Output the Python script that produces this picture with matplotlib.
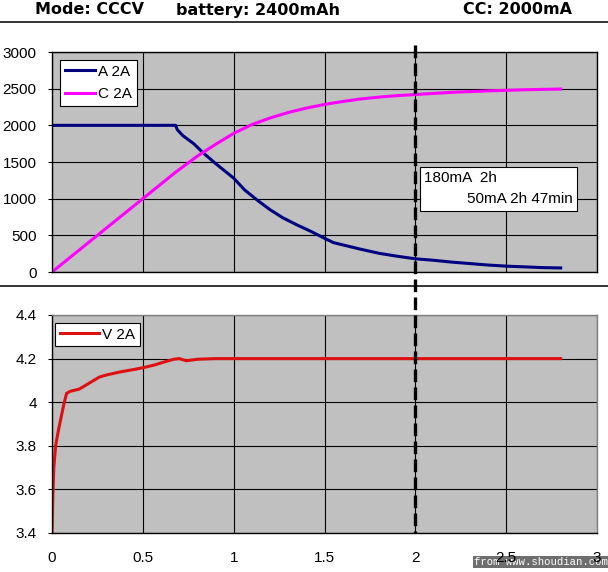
import matplotlib
matplotlib.use("Agg")
import matplotlib.pyplot as plt
import matplotlib.transforms as mtransforms
from matplotlib.lines import Line2D

plt.rcParams["font.family"] = ["Liberation Sans", "DejaVu Sans"]

# charge current (mA) vs time (h)
t_a = [0, 0.68, 0.69, 0.72, 0.78, 0.83, 0.9, 1.0, 1.06, 1.13, 1.2, 1.27, 1.35,
       1.42, 1.5, 1.55, 1.6, 1.7, 1.8, 1.9, 2.0, 2.1, 2.2, 2.3, 2.4, 2.5, 2.6,
       2.7, 2.8]
a_ma = [2000, 2000, 1940, 1860, 1750, 1630, 1480, 1280, 1120, 980, 850, 740,
        640, 560, 460, 400, 370, 310, 255, 215, 180, 160, 135, 115, 95, 80, 70,
        60, 55]

# charged capacity (mAh) vs time (h)
t_c = [0, 0.25, 0.5, 0.68, 0.8, 0.9, 1.0, 1.1, 1.2, 1.3, 1.4, 1.5, 1.6, 1.7,
       1.8, 1.9, 2.0, 2.2, 2.4, 2.6, 2.8]
c_mah = [0, 500, 1000, 1360, 1580, 1740, 1890, 2010, 2100, 2175, 2235, 2285,
         2325, 2360, 2385, 2405, 2420, 2450, 2470, 2485, 2495]

# cell voltage (V) vs time (h)
t_v = [0, 0.005, 0.01, 0.02, 0.035, 0.05, 0.065, 0.08, 0.1, 0.15, 0.2, 0.26,
       0.3, 0.37, 0.45, 0.5, 0.56, 0.62, 0.67, 0.7, 0.74, 0.8, 0.9, 1.0, 1.5,
       2.0, 2.5, 2.8]
v = [3.40, 3.58, 3.70, 3.80, 3.87, 3.93, 3.99, 4.04, 4.05, 4.06, 4.085, 4.115,
     4.125, 4.138, 4.15, 4.158, 4.17, 4.185, 4.197, 4.20, 4.19, 4.197, 4.20,
     4.20, 4.20, 4.20, 4.20, 4.20]

x_ticks = [0, 0.5, 1, 1.5, 2, 2.5, 3]
x_labels = ["0", "0.5", "1", "1.5", "2", "2.5", "3"]
top_yticks = [0, 500, 1000, 1500, 2000, 2500, 3000]
bot_yticks = [3.4, 3.6, 3.8, 4.0, 4.2, 4.4]
bot_ylabels = ["3.4", "3.6", "3.8", "4", "4.2", "4.4"]
marker_time = 2.0

W, H = 608, 572
fig = plt.figure(figsize=(W / 100, H / 100), dpi=100)


def box(left, top, right, bottom):
    return [left / W, 1 - bottom / H, (right - left) / W, (bottom - top) / H]


ax1 = fig.add_axes(box(52, 52, 597, 272))
ax2 = fig.add_axes(box(52, 315, 597, 533))

for ax in (ax1, ax2):
    ax.set_facecolor("#c0c0c0")
    ax.set_axisbelow(True)
    ax.set_xlim(0, 3)
    ax.set_xticks(x_ticks)
    ax.grid(True, color="black", linewidth=0.8)
    ax.tick_params(axis="y", direction="out", length=3, width=0.8,
                   labelsize=11, pad=8)
    ax.tick_params(axis="x", length=0, labelsize=11, pad=13)
    for s in ax.spines.values():
        s.set_linewidth(1.0)
        s.set_color("black")

ax1.set_ylim(0, 3000)
ax1.set_yticks(top_yticks)
ax1.set_xticklabels([])
ax1.plot(t_a, a_ma, color="#000080", lw=2.2, label="A 2A")
ax1.plot(t_c, c_mah, color="#ff00ff", lw=2.2, label="C 2A")
leg1 = ax1.legend(loc="upper left", bbox_to_anchor=(0.0147, 0.9636),
                  borderaxespad=0, fontsize=11, fancybox=False, framealpha=1,
                  edgecolor="black", handlelength=2.0, handletextpad=0.2,
                  labelspacing=0.55, borderpad=0.3)
leg1.get_frame().set_linewidth(0.8)

# annotation box
ax1.add_patch(plt.Rectangle((0.675, 0.277), 0.288, 0.2, transform=ax1.transAxes,
                            facecolor="white", edgecolor="black", lw=0.8,
                            zorder=4))
ax1.text(0.683, 0.425, "180mA  2h", transform=ax1.transAxes, fontsize=11,
         va="center", ha="left", zorder=5)
ax1.text(0.956, 0.33, "50mA 2h 47min", transform=ax1.transAxes, fontsize=11,
         va="center", ha="right", zorder=5)

ax2.set_ylim(3.4, 4.4)
ax2.set_yticks(bot_yticks)
ax2.set_yticklabels(bot_ylabels)
ax2.set_xticklabels(x_labels)
ax2.spines["top"].set_color("#808080")
ax2.spines["right"].set_color("#808080")
ax2.plot(t_v, v, color="#dd1111", lw=2.2, label="V 2A")
leg2 = ax2.legend(loc="upper left", bbox_to_anchor=(0.0055, 0.963),
                  borderaxespad=0, fontsize=11, fancybox=False, framealpha=1,
                  edgecolor="black", handlelength=2.6, handletextpad=0.2,
                  borderpad=0.3)
leg2.get_frame().set_linewidth(0.8)

# dashed time marker across both panels
trans = mtransforms.blended_transform_factory(ax1.transData, fig.transFigure)
fig.add_artist(Line2D([marker_time, marker_time], [1 - 45 / H, 1 - 533 / H],
                      transform=trans, color="black", lw=2.4,
                      linestyle=(0, (3.8, 1.6)), zorder=6))

# separators
for yy in (22, 286):
    fig.add_artist(Line2D([0, 1], [1 - yy / H, 1 - yy / H],
                          transform=fig.transFigure, color="black", lw=1.1))

hdr = dict(fontsize=11.5, fontweight="bold", va="center", ha="left",
           family="DejaVu Sans")
fig.text(35 / W, 1 - 10 / H, "Mode: CCCV", **hdr)
fig.text(176 / W, 1 - 10 / H, "battery: 2400mAh", **hdr)
fig.text(463 / W, 1 - 10 / H, "CC: 2000mA", **hdr)

# watermark sits under the tick labels, as in the source image
fig.text(474 / W, 1 - 562 / H, "from www.shoudian.com", fontsize=7.7,
         family="Liberation Mono", color="white", va="center", ha="left",
         zorder=-1, bbox=dict(facecolor="#6e6e6e", edgecolor="none", pad=0.8))

fig.savefig("out.png", dpi=100)
